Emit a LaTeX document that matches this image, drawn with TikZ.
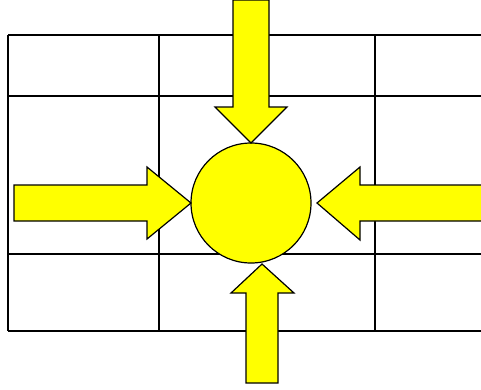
\documentclass[tikz,border=0pt]{standalone}
\definecolor{pureyellow}{RGB}{255,255,0}
\begin{document}
\begin{tikzpicture}[x=1pt,y=-1pt,
  gridline/.style={line width=1.5pt,black},
  bigarrow/.style={draw=black,line width=1.2pt,fill=pureyellow,line join=miter},
  hub/.style={circle,draw=black,line width=1.2pt,fill=pureyellow,minimum size=120pt,inner sep=0pt}]
\useasboundingbox (0,0) rectangle (481,389);
% grid
\foreach \yy in {35,96,254,331} \draw[gridline] (8,\yy) -- (481,\yy);
\foreach \xx in {8,159,375} \draw[gridline] (\xx,35) -- (\xx,331);
% hub
\node[hub] (c) at (251,203) {};
% top arrow
\draw[bigarrow] (233,0) -- (269,0) -- (269,107) -- (287,107) -- (251,143) -- (215,107) -- (233,107) -- cycle;
% left arrow
\draw[bigarrow] (14,185) -- (147,185) -- (147,167) -- (191,203) -- (147,239) -- (147,221) -- (14,221) -- cycle;
% right arrow
\draw[bigarrow] (482,185) -- (360,185) -- (360,167) -- (317,203) -- (360,240) -- (360,221) -- (482,221);
% bottom arrow
\draw[bigarrow] (246,383) -- (246,293) -- (231,293) -- (262,264) -- (294,293) -- (278,293) -- (278,383) -- cycle;
\end{tikzpicture}
\end{document}
